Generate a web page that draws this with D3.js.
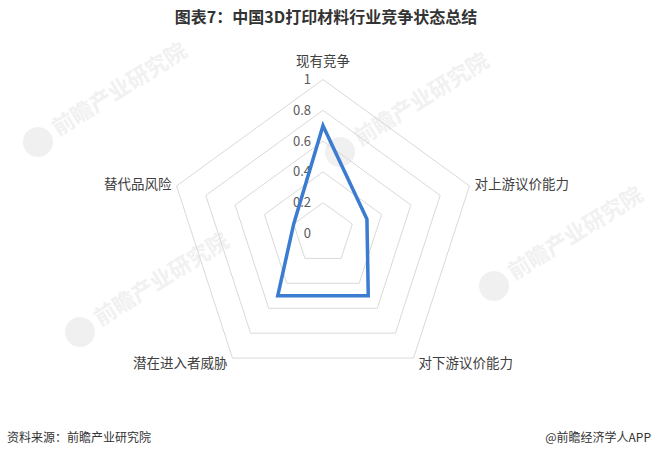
<!DOCTYPE html>
<html>
<head>
<meta charset="utf-8">
<script src="https://cdn.jsdelivr.net/npm/d3@7"></script>
<style>
  html, body { margin: 0; padding: 0; background: #fff; }
  svg { display: block; font-family: "Noto Sans CJK SC", "Microsoft YaHei", sans-serif; }
</style>
</head>
<body>
<svg id="chart" width="652" height="458"></svg>
<script>
const categories = ["现有竞争", "对上游议价能力", "对下游议价能力", "潜在进入者威胁", "替代品风险"];
const values = [0.7, 0.3, 0.5, 0.5, 0.2];
const tickValues = [0, 0.2, 0.4, 0.6, 0.8, 1];
const tickLabels = ["0", "0.2", "0.4", "0.6", "0.8", "1"];
const title = "图表7：中国3D打印材料行业竞争状态总结";
const sourceText = "资料来源：前瞻产业研究院";
const brandText = "@前瞻经济学人APP";
const watermarkText = "前瞻产业研究院";
const watermarkAnchors = [[38, 142], [340, 152], [494, 286], [80, 332]];

const svg = d3.select("#chart");
const cx = 323, cy = 233.5, R = 154;

const r = d3.scaleLinear().domain([0, 1]).range([0, R]);
const angle = d3.scalePoint().domain(categories).range([0, 2 * Math.PI * (categories.length - 1) / categories.length]);

const pt = (cat, v) => {
  const a = angle(cat);
  return [cx + Math.sin(a) * r(v), cy - Math.cos(a) * r(v)];
};

// Watermarks (faint)
const wm = svg.append("g").selectAll("g")
  .data(watermarkAnchors)
  .join("g")
  .attr("transform", d => `translate(${d[0]},${d[1]}) rotate(-32)`);
wm.append("circle").attr("r", 15).attr("fill", "#f0f0f0");
wm.append("text")
  .attr("x", 20).attr("y", 6)
  .attr("font-size", 22).attr("font-weight", "bold")
  .attr("fill", "#f1f1f1")
  .text(watermarkText);

// Title
svg.append("text")
  .attr("x", 326).attr("y", 23)
  .attr("text-anchor", "middle")
  .attr("font-size", 16).attr("font-weight", "bold")
  .attr("fill", "#333")
  .text(title);

// Grid rings
const ring = d3.line().curve(d3.curveLinearClosed);
svg.append("g").selectAll("path")
  .data(tickValues.filter(d => d > 0))
  .join("path")
  .attr("d", v => ring(categories.map(c => pt(c, v))))
  .attr("fill", "none")
  .attr("stroke", "#d9d9d9")
  .attr("stroke-width", 1);

// Tick labels
svg.append("g").selectAll("text")
  .data(tickValues)
  .join("text")
  .attr("x", cx - 12)
  .attr("y", v => cy - r(v))
  .attr("dy", "0.35em")
  .attr("text-anchor", "end")
  .attr("font-size", 13)
  .attr("fill", "#595959")
  .text((v, i) => tickLabels[i]);

// Data polygon
svg.append("path")
  .attr("d", ring(categories.map((c, i) => pt(c, values[i]))))
  .attr("fill", "none")
  .attr("stroke", "#3b7bd0")
  .attr("stroke-width", 3.5)
  .attr("stroke-linejoin", "miter");

// Category labels
const labelPos = categories.map(c => {
  const [x, y] = pt(c, 1);
  const a = angle(c);
  const s = Math.sin(a);
  let anchor = "middle", dx = 0, dy = 0;
  if (Math.abs(s) < 0.01) { anchor = "middle"; dy = -18; }
  else if (s > 0) { anchor = "start"; dx = 5; dy = Math.cos(a) < 0 ? 5 : -2; }
  else { anchor = "end"; dx = -5; dy = Math.cos(a) < 0 ? 5 : -2; }
  return { c, x: x + dx, y: y + dy, anchor };
});
svg.append("g").selectAll("text")
  .data(labelPos)
  .join("text")
  .attr("x", d => d.x)
  .attr("y", d => d.y)
  .attr("dy", "0.35em")
  .attr("text-anchor", d => d.anchor)
  .attr("font-size", 13.5)
  .attr("fill", "#404040")
  .text(d => d.c);

// Footer
svg.append("text")
  .attr("x", 7).attr("y", 442)
  .attr("font-size", 12).attr("fill", "#333")
  .text(sourceText);
svg.append("text")
  .attr("x", 651).attr("y", 442)
  .attr("text-anchor", "end")
  .attr("font-size", 12).attr("fill", "#333")
  .text(brandText);
</script>
</body>
</html>
